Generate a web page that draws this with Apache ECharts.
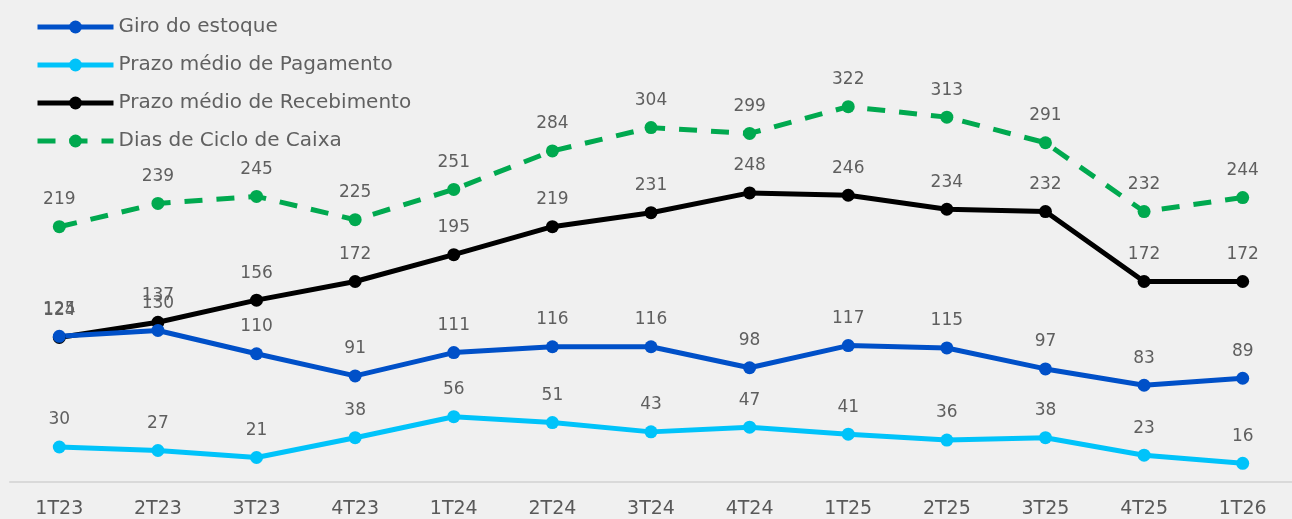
<!DOCTYPE html>
<html><head><meta charset="utf-8">
<script src="https://cdn.jsdelivr.net/npm/echarts@6/dist/echarts.min.js"></script>
<style>html,body{margin:0;padding:0;background:#f0f0f0}#c{width:1292px;height:519px}</style>
</head><body><div id="c"></div>
<script>
const categories = ['1T23','2T23','3T23','4T23','1T24','2T24','3T24','4T24','1T25','2T25','3T25','4T25','1T26'];
const giroEstoque = [125,130,110,91,111,116,116,98,117,115,97,83,89];
const prazoPagamento = [30,27,21,38,56,51,43,47,41,36,38,23,16];
const prazoRecebimento = [124,137,156,172,195,219,231,248,246,234,232,172,172];
const diasCiclo = [219,239,245,225,251,284,304,299,322,313,291,232,244];

const FONT = 'DejaVu Sans';
const chart = echarts.init(document.getElementById('c'));
function mk(name, data, color, dashed) {
  return {
    name, type: 'line', data, symbol: 'circle', symbolSize: 13,
    itemStyle: { color },
    lineStyle: { color, width: 5, type: dashed ? [18, 14] : 'solid' },
    label: { show: true, position: 'top', distance: 12, color: '#5f5f5f', fontSize: 17, fontFamily: FONT },
    z: dashed ? 1 : 2
  };
}
chart.setOption({
  backgroundColor: '#f0f0f0',
  animation: false,
  textStyle: { fontFamily: FONT },
  legend: {
    orient: 'vertical', left: 30, top: 12, itemWidth: 76, itemHeight: 16, itemGap: 18,
    lineStyle: { width: 5 },
    textStyle: { color: '#606060', fontSize: 20, fontFamily: FONT },
    data: ['Giro do estoque', 'Prazo médio de Pagamento', 'Prazo médio de Recebimento', 'Dias de Ciclo de Caixa']
  },
  grid: { left: 10, right: -4, top: 74, bottom: 36 },
  xAxis: {
    type: 'category', data: categories, boundaryGap: true,
    axisLine: { lineStyle: { color: '#d9d9d9', width: 2 } },
    axisTick: { show: false },
    axisLabel: { color: '#595959', fontSize: 19, margin: 18, fontFamily: FONT }
  },
  yAxis: { type: 'value', min: 0, max: 350, show: false, splitLine: { show: false } },
  series: [
    mk('Dias de Ciclo de Caixa', diasCiclo, '#00a94f', true),
    mk('Prazo médio de Recebimento', prazoRecebimento, '#000000'),
    mk('Giro do estoque', giroEstoque, '#0050c8'),
    mk('Prazo médio de Pagamento', prazoPagamento, '#00c3fa')
  ]
});
</script></body></html>
